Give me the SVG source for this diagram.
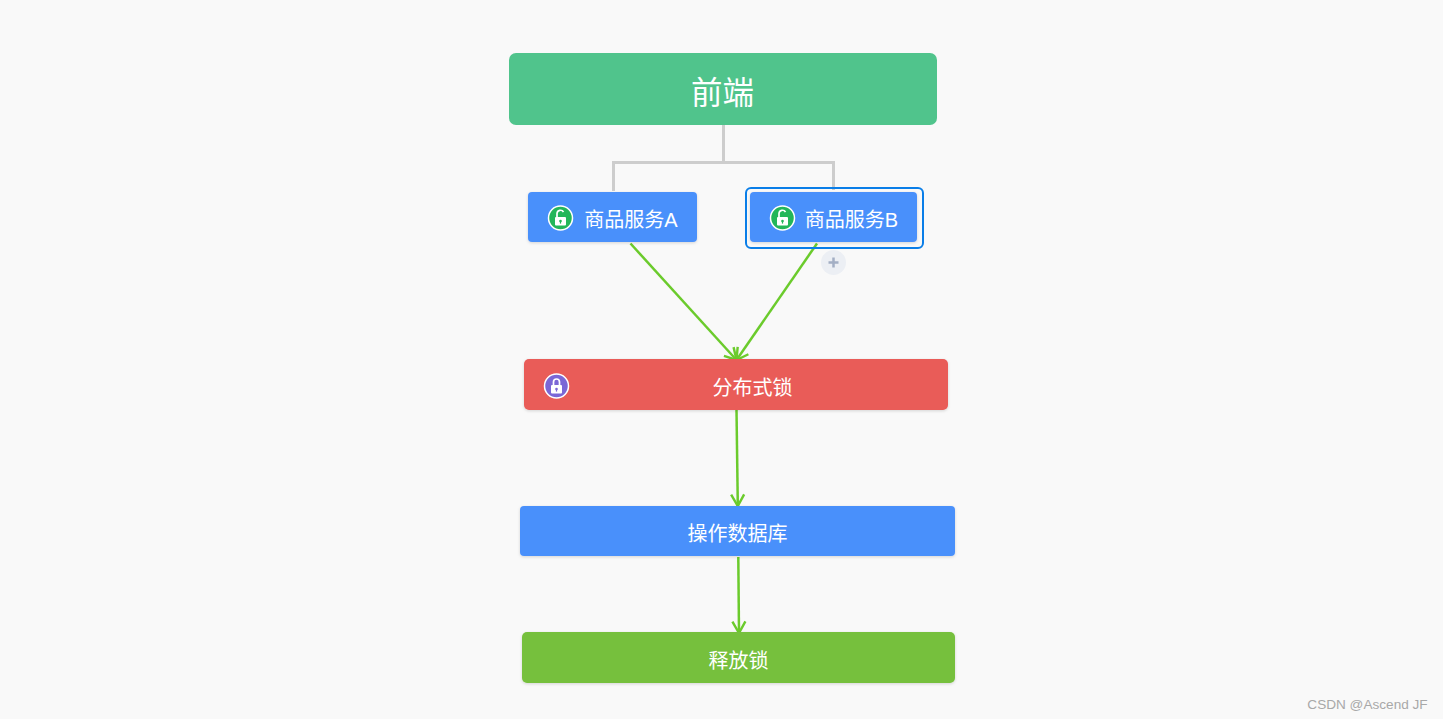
<svg xmlns="http://www.w3.org/2000/svg" width="1443" height="719" viewBox="0 0 1443 719">
<defs>
<filter id="sh" x="-5%" y="-20%" width="110%" height="140%"><feDropShadow dx="0" dy="1" stdDeviation="1.500" flood-color="#000" flood-opacity="0.15"/></filter>
<marker id="arr" markerUnits="userSpaceOnUse" markerWidth="16" markerHeight="16" refX="13" refY="8" orient="auto"><path d="M1.500 1.500L13 8L1.500 14.500" fill="none" stroke="#6bcb2c" stroke-width="2.400"/></marker>
<g id="lockshape"><rect x="-5.500" y="-1" width="11" height="8.500" rx="1" fill="#fff"/><circle cx="0" cy="3" r="1.300"/><rect x="-0.600" y="3" width="1.200" height="2.600"/></g>
</defs>
<style>
.c{font-family:"Liberation Sans","Noto Sans CJK SC",sans-serif;fill:#fff;font-size:20px;text-anchor:middle}
.g{fill:none;stroke:#6bcb2c;stroke-width:2.500;marker-end:url(#arr)}
.tree{fill:none;stroke:#cdcdcd;stroke-width:3}
.ring{stroke:#fff;stroke-width:1.500}
</style>
<rect width="1443" height="719" fill="#f9f9f9"/>
<g id="connectors">
<path class="tree" d="M723.500 125V162.500M613.500 191V162.500H833.500V190"/>
<path class="g" d="M630.500 243.500L736.500 360"/>
<path class="g" d="M817 243.500L736.500 360"/>
<path class="g" d="M736.500 410L737.800 506"/>
<path class="g" d="M738.300 557L739 633"/>
</g>
<g id="n-frontend"><rect x="509" y="53" width="428" height="72" rx="7" fill="#50c48c"/><text class="c" x="722.500" y="104" style="font-size:31.500px">前端</text></g>
<g id="n-a"><rect x="528" y="192" width="169" height="50" rx="4" fill="#4a90fb" filter="url(#sh)"/>
<circle class="ring" cx="560.500" cy="218" r="12" fill="#23b659"/><path d="M557 217v-3.500a3.500 3.500 0 0 1 6.500-1.500" fill="none" stroke="#fff" stroke-width="1.700"/><use href="#lockshape" x="560.500" y="218" fill="#23b659"/>
<text class="c" x="631" y="227">商品服务A</text></g>
<g id="n-b"><rect x="746" y="188" width="177" height="60" rx="5" fill="none" stroke="#0a7ee8" stroke-width="2"/><rect x="750" y="192" width="167" height="50" rx="4" fill="#4a90fb" filter="url(#sh)"/>
<circle class="ring" cx="782.500" cy="218" r="12" fill="#23b659"/><path d="M779 217v-3.500a3.500 3.500 0 0 1 6.500-1.500" fill="none" stroke="#fff" stroke-width="1.700"/><use href="#lockshape" x="782.500" y="218" fill="#23b659"/>
<text class="c" x="851.500" y="227">商品服务B</text>
<circle cx="833.500" cy="262.500" r="12.500" fill="#eceff4"/><path d="M828.500 262.500H838.500M833.500 257.500V267.500" stroke="#a3afc4" stroke-width="2.500"/></g>
<g id="n-lock"><rect x="524" y="359" width="424" height="51" rx="5" fill="#e95b58" filter="url(#sh)"/>
<circle class="ring" cx="556.500" cy="386" r="12" fill="#7b67d6"/><path d="M553.500 385v-3a3 3 0 0 1 6 0v3" fill="none" stroke="#fff" stroke-width="1.700"/><use href="#lockshape" x="556.500" y="386" fill="#7b67d6"/>
<text class="c" x="752.500" y="395">分布式锁</text></g>
<g id="n-db"><rect x="520" y="506" width="435" height="50" rx="4" fill="#4a90fb" filter="url(#sh)"/><text class="c" x="737.500" y="541">操作数据库</text></g>
<g id="n-release"><rect x="522" y="632" width="433" height="51" rx="5" fill="#76c03c" filter="url(#sh)"/><text class="c" x="738.500" y="668">释放锁</text></g>
<text x="1367.500" y="709" text-anchor="middle" style="font-family:'Liberation Sans',sans-serif;font-size:13.600px;fill:#a8a8a8">CSDN @Ascend JF</text>
</svg>
